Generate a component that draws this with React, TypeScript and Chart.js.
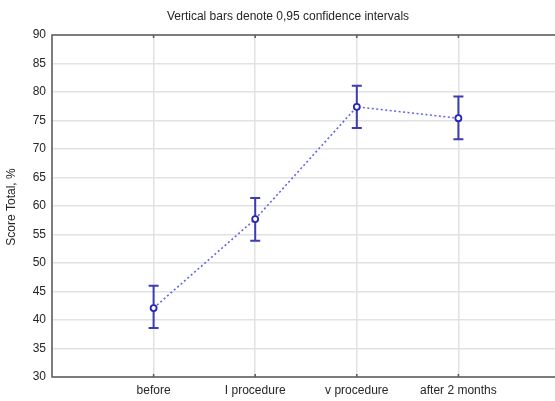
import React, { useEffect, useRef } from "react";
import { Chart, registerables } from "chart.js";

Chart.register(...registerables);

const categories = ["before", "I procedure", "v procedure", "after 2 months"];
const means = [42.1, 57.7, 77.4, 75.4];
const ciLower = [38.6, 53.9, 73.7, 71.7];
const ciUpper = [46.0, 61.4, 81.1, 79.2];
const yTicks = [30, 35, 40, 45, 50, 55, 60, 65, 70, 75, 80, 85, 90];
const titleText = "Vertical bars denote 0,95 confidence intervals";
const yTitle = "Score Total, %";

const FONT = "'Liberation Sans', Arial, sans-serif";
const TEXT = "#262626";

const decorPlugin = {
  id: "decor",
  beforeDatasetsDraw(chart: any) {
    const { ctx, scales } = chart;
    const xs = scales.x;
    const ys = scales.y;
    ctx.save();
    ctx.strokeStyle = "#3c3cb4";
    ctx.lineWidth = 2;
    for (let i = 0; i < means.length; i++) {
      const px = xs.getPixelForValue(i + 1);
      const top = ys.getPixelForValue(ciUpper[i]);
      const bot = ys.getPixelForValue(ciLower[i]);
      ctx.beginPath();
      ctx.moveTo(px, top);
      ctx.lineTo(px, bot);
      ctx.moveTo(px - 5, top);
      ctx.lineTo(px + 5, top);
      ctx.moveTo(px - 5, bot);
      ctx.lineTo(px + 5, bot);
      ctx.stroke();
    }
    ctx.restore();
  },
  afterDraw(chart: any) {
    const { ctx, chartArea, scales } = chart;
    const xs = scales.x;
    ctx.save();
    ctx.strokeStyle = "#5a5a5a";
    ctx.lineWidth = 1.5;
    ctx.strokeRect(chartArea.left, chartArea.top, chartArea.right - chartArea.left, chartArea.bottom - chartArea.top);
    for (let i = 0; i < categories.length; i++) {
      const px = xs.getPixelForValue(i + 1);
      ctx.beginPath();
      ctx.moveTo(px, chartArea.top);
      ctx.lineTo(px, chartArea.top + 3);
      ctx.moveTo(px, chartArea.bottom);
      ctx.lineTo(px, chartArea.bottom - 3);
      ctx.stroke();
    }
    ctx.fillStyle = TEXT;
    ctx.font = `12px ${FONT}`;
    ctx.textAlign = "center";
    ctx.textBaseline = "middle";
    ctx.fillText(titleText, 288, 17);
    ctx.translate(12, 207);
    ctx.rotate(-Math.PI / 2);
    ctx.fillText(yTitle, 0, 0);
    ctx.restore();
  },
};

export default function App() {
  const ref = useRef<HTMLCanvasElement>(null);
  useEffect(() => {
    if (!ref.current) return;
    const chart = new Chart(ref.current, {
      type: "line",
      data: {
        datasets: [
          {
            data: means.map((v, i) => ({ x: i + 1, y: v })),
            borderColor: "#6464e6",
            borderWidth: 1.6,
            borderDash: [2, 2.5],
            pointRadius: 3,
            pointBorderWidth: 1.8,
            pointBorderColor: "#2626b8",
            pointBackgroundColor: "#ffffff",
            fill: false,
            tension: 0,
          },
        ],
      },
      options: {
        animation: false,
        responsive: false,
        events: [],
        layout: { padding: { top: 35, right: 20, left: 0, bottom: 0 } },
        plugins: { legend: { display: false }, tooltip: { enabled: false }, title: { display: false } },
        scales: {
          x: {
            type: "linear",
            min: 0,
            max: 5,
            afterBuildTicks: (s: any) => {
              s.ticks = [0, 1, 2, 3, 4, 5].map((v) => ({ value: v }));
            },
            afterFit: (s: any) => {
              s.height = 24;
            },
            ticks: {
              autoSkip: false,
              maxRotation: 0,
              padding: 6,
              color: TEXT,
              font: { family: FONT, size: 12 },
              callback: (v: any) => categories[Number(v) - 1] ?? "",
            },
            grid: { color: "#e2e2e2", lineWidth: 1.5, drawTicks: false },
            border: { display: false },
          },
          y: {
            type: "linear",
            min: 30,
            max: 90,
            afterBuildTicks: (s: any) => {
              s.ticks = yTicks.map((v) => ({ value: v }));
            },
            afterFit: (s: any) => {
              s.width = 52;
            },
            ticks: {
              padding: 6,
              color: TEXT,
              font: { family: FONT, size: 12 },
            },
            grid: { color: "#e2e2e2", lineWidth: 1.5, drawTicks: false },
            border: { display: false },
          },
        },
      },
      plugins: [decorPlugin],
    });
    return () => chart.destroy();
  }, []);
  return (
    <div style={{ position: "absolute", left: 0, top: 0, width: 555, height: 401, overflow: "hidden", background: "#fff" }}>
      <canvas ref={ref} width={580} height={401} style={{ display: "block" }} />
    </div>
  );
}
